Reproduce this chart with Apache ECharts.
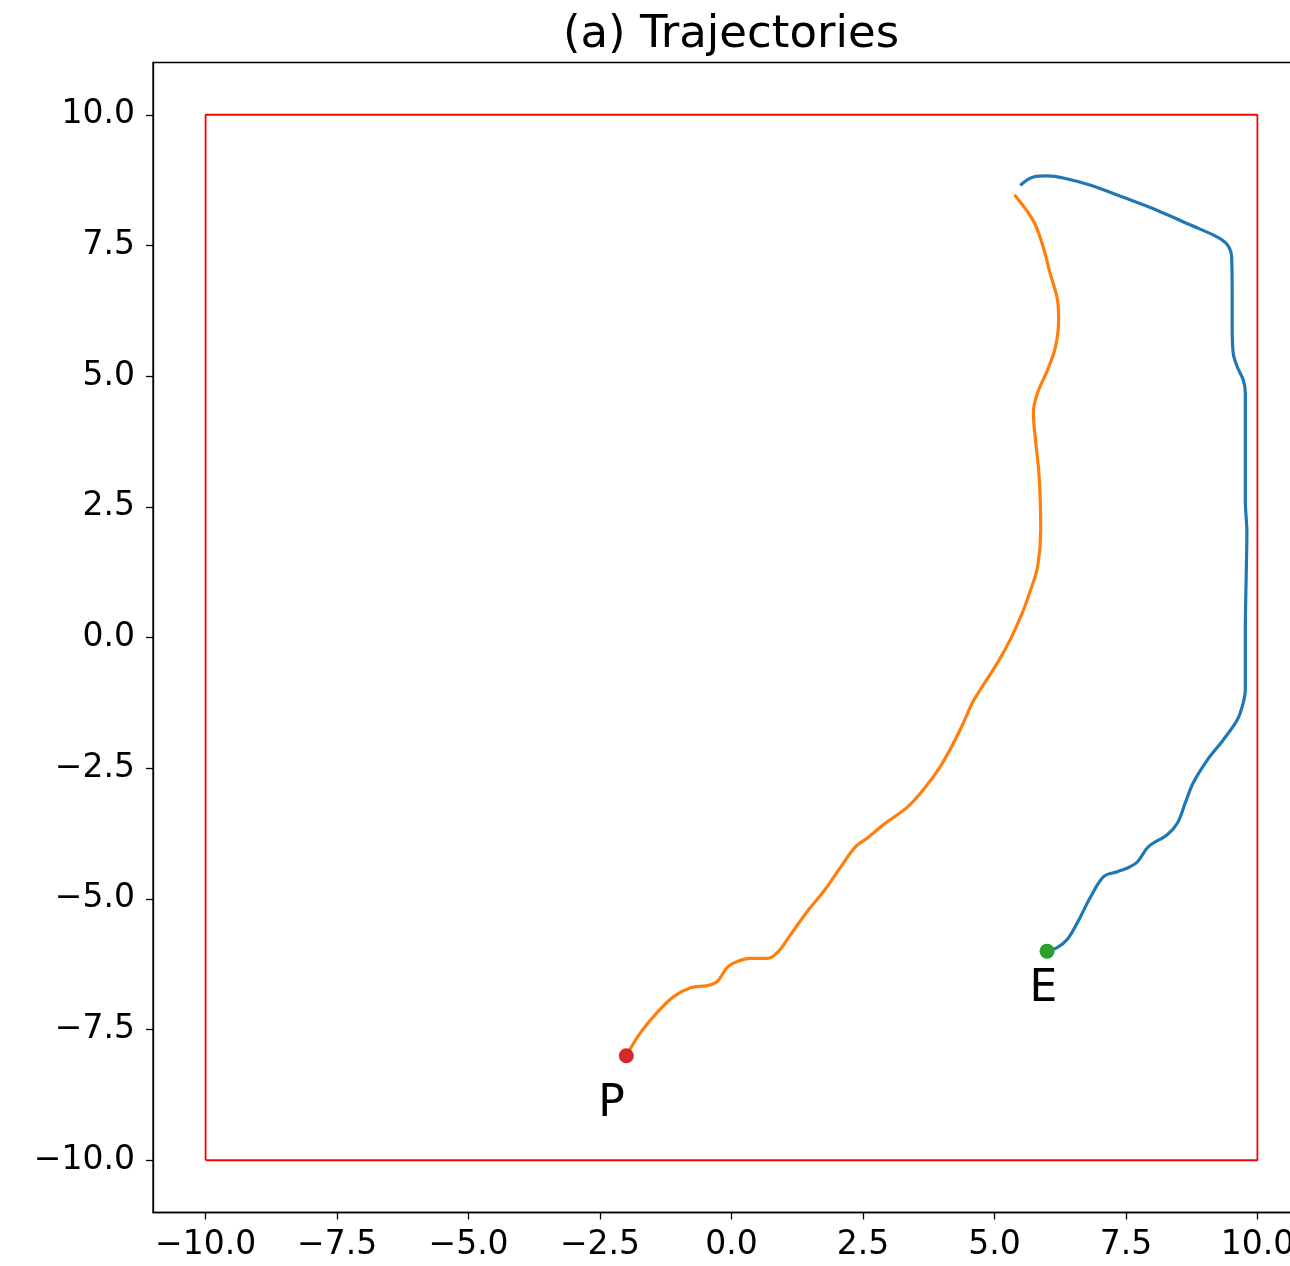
<!DOCTYPE html>
<html>
<head>
<meta charset="utf-8">
<script src="https://cdn.jsdelivr.net/npm/echarts@6/dist/echarts.min.js"></script>
<style>
html, body { margin: 0; padding: 0; overflow: hidden; background: #fff; }
#chart { width: 1310px; height: 1266px; }
</style>
</head>
<body>
<div id="chart"></div>
<script>
// ---- data ----
const tickValues = [-10, -7.5, -5, -2.5, 0, 2.5, 5, 7.5, 10];

// pursuer (P) trajectory, orange
const pursuerX = [-2.0, -1.73, -1.41, -1.10, -0.78, -0.46, -0.27, -0.08, 0.11, 0.36, 0.68, 0.87, 1.12, 1.44, 1.75, 2.07, 2.36, 2.59, 2.89, 3.35, 3.65, 3.97, 4.22, 4.41, 4.58, 4.73, 5.06, 5.30, 5.53, 5.68, 5.82, 5.88, 5.87, 5.84, 5.78, 5.74, 5.82, 6.01, 6.16, 6.22, 6.20, 6.06, 5.93, 5.74, 5.38];
const pursuerY = [-8.0, -7.56, -7.17, -6.87, -6.70, -6.66, -6.58, -6.31, -6.20, -6.14, -6.14, -6.03, -5.69, -5.24, -4.86, -4.40, -4.00, -3.83, -3.58, -3.24, -2.91, -2.47, -2.02, -1.63, -1.25, -1.00, -0.48, -0.04, 0.47, 0.89, 1.35, 2.06, 2.63, 3.21, 3.78, 4.30, 4.68, 5.12, 5.56, 6.07, 6.45, 6.96, 7.46, 7.97, 8.47];

// evader (E) trajectory, blue
const evaderX = [6.0, 6.20, 6.39, 6.58, 6.83, 7.08, 7.34, 7.55, 7.72, 7.93, 8.29, 8.48, 8.63, 8.78, 9.05, 9.35, 9.62, 9.73, 9.77, 9.77, 9.79, 9.80, 9.77, 9.77, 9.77, 9.73, 9.62, 9.54, 9.52, 9.52, 9.51, 9.43, 9.24, 8.73, 8.10, 7.45, 6.83, 6.31, 6.01, 5.74, 5.49];
const evaderY = [-6.0, -5.93, -5.77, -5.45, -4.96, -4.57, -4.48, -4.40, -4.29, -4.00, -3.77, -3.55, -3.16, -2.78, -2.34, -1.96, -1.57, -1.25, -1.00, 0.09, 1.35, 2.00, 2.63, 3.40, 4.68, 4.93, 5.17, 5.44, 5.94, 6.59, 7.28, 7.51, 7.66, 7.89, 8.17, 8.42, 8.65, 8.79, 8.83, 8.81, 8.65];

// arena boundary
const boundaryX = [-10, 10, 10, -10, -10];
const boundaryY = [-10, -10, 10, 10, -10];

// start points and their labels
const startNames = ['P', 'E'];
const startX = [-2, 6];
const startY = [-8, -6];
const labelX = [-2.28, 5.93];
const labelY = [-8.93, -6.73];

// ---- chart ----
const zip = (xs, ys) => xs.map((x, i) => [x, ys[i]]);
const fmt = v => (Math.abs(v) < 1e-9 ? 0 : v).toFixed(1).replace('-', '\u2212');
const FONT = 'DejaVu Sans';

const axisCommon = {
  type: 'value', min: -11, max: 11,
  axisLine: { show: true, onZero: false, lineStyle: { color: '#000', width: 1.3 } },
  axisTick: { show: true, inside: false, length: 7, customValues: tickValues, lineStyle: { color: '#000', width: 1.3 } },
  axisLabel: { customValues: tickValues, formatter: fmt, color: '#000', fontFamily: FONT, fontSize: 33 },
  splitLine: { show: false }
};

const chart = echarts.init(document.getElementById('chart'), null, { renderer: 'canvas' });
chart.setOption({
  animation: false,
  backgroundColor: '#fff',
  title: {
    text: '(a) Trajectories',
    left: 731, top: 13, textAlign: 'center', padding: 0,
    textStyle: { fontFamily: FONT, fontSize: 45, fontWeight: 'normal', color: '#000' }
  },
  grid: {
    left: 153, right: 0, top: 62.5, bottom: 53.5,
    show: true, borderColor: '#000', borderWidth: 1.3, backgroundColor: 'transparent'
  },
  xAxis: Object.assign({}, axisCommon, { axisLabel: Object.assign({}, axisCommon.axisLabel, { margin: 16 }) }),
  yAxis: Object.assign({}, axisCommon, { axisLabel: Object.assign({}, axisCommon.axisLabel, { margin: 18 }) }),
  series: [
    {
      type: 'line', data: zip(boundaryX, boundaryY), showSymbol: false,
      lineStyle: { color: '#ff0000', width: 1.8 }, z: 1
    },
    {
      type: 'line', data: zip(evaderX, evaderY), showSymbol: false, smooth: 0.35,
      lineStyle: { color: '#1f77b4', width: 3.2 }, z: 2
    },
    {
      type: 'line', data: zip(pursuerX, pursuerY), showSymbol: false, smooth: 0.35,
      lineStyle: { color: '#ff7f0e', width: 3.2 }, z: 2
    },
    {
      type: 'scatter', symbolSize: 15, z: 3,
      itemStyle: { opacity: 1 },
      data: [
        { value: [startX[0], startY[0]], itemStyle: { color: '#d62728', opacity: 1 } },
        { value: [startX[1], startY[1]], itemStyle: { color: '#2ca02c', opacity: 1 } }
      ]
    },
    {
      type: 'scatter', symbolSize: 0, z: 4, silent: true,
      itemStyle: { opacity: 1 },
      data: labelX.map((x, i) => ({ value: [x, labelY[i]], name: startNames[i] })),
      label: {
        show: true, position: 'inside', formatter: p => p.name,
        fontFamily: FONT, fontSize: 44, color: '#000', opacity: 1, textBorderWidth: 0
      }
    }
  ]
});
</script>
</body>
</html>
